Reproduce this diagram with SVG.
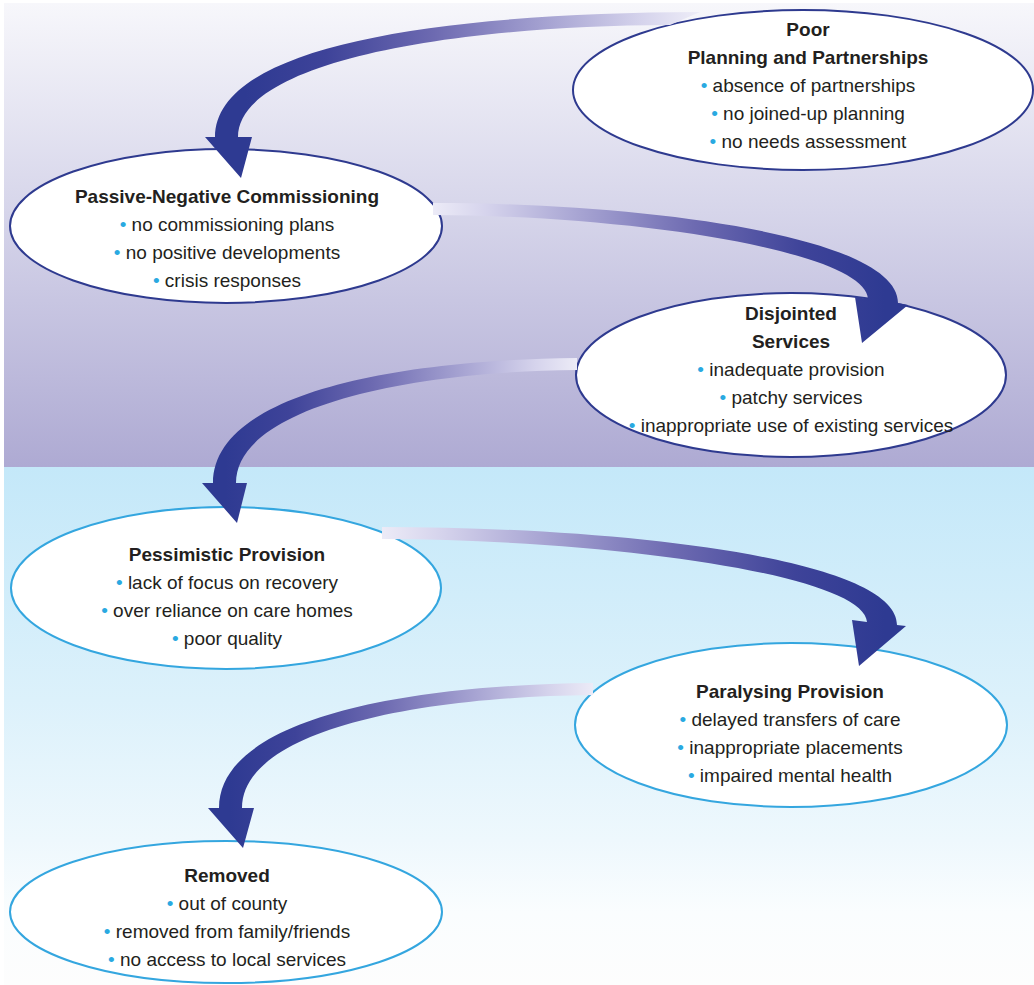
<svg xmlns="http://www.w3.org/2000/svg" width="1034" height="985" viewBox="0 0 1034 985">
<style>
.t{font-family:"Liberation Sans",Arial,Helvetica,sans-serif;font-size:19px;fill:#231f20;text-anchor:middle}
.b{font-weight:bold}
.d{fill:#29a9e1}
.e1{fill:#fff;stroke:#2e3a8f;stroke-width:2}
.e2{fill:#fff;stroke:#34a6df;stroke-width:2}
</style>
<defs>
<linearGradient id="bgTop" x1="0" y1="3" x2="0" y2="467" gradientUnits="userSpaceOnUse">
<stop offset="0" stop-color="#f7f7fb"/>
<stop offset="0.45" stop-color="#d6d5ea"/>
<stop offset="1" stop-color="#aeaad3"/>
</linearGradient>
<linearGradient id="bgBot" x1="0" y1="467" x2="0" y2="985" gradientUnits="userSpaceOnUse">
<stop offset="0" stop-color="#c4e8f9"/>
<stop offset="0.45" stop-color="#dcf1fb"/>
<stop offset="0.72" stop-color="#eef8fd"/>
<stop offset="0.86" stop-color="#fafdfe"/>
<stop offset="1" stop-color="#fdfdfd"/>
</linearGradient>
<linearGradient id="ga" gradientUnits="userSpaceOnUse" x1="0" y1="0" x2="1" y2="0">
<stop offset="0" stop-color="#ecebf7"/>
<stop offset="0.12" stop-color="#d5d3ec"/>
<stop offset="0.32" stop-color="#a8a5d3"/>
<stop offset="0.58" stop-color="#6d6ab1"/>
<stop offset="0.82" stop-color="#3e4399"/>
<stop offset="1" stop-color="#2e3a92"/>
</linearGradient>
<linearGradient id="g1" href="#ga" gradientUnits="userSpaceOnUse" x1="695" y1="0" x2="245" y2="0"/>
<linearGradient id="g2" href="#ga" gradientUnits="userSpaceOnUse" x1="433" y1="0" x2="885" y2="0"/>
<linearGradient id="g3" href="#ga" gradientUnits="userSpaceOnUse" x1="577" y1="0" x2="225" y2="0"/>
<linearGradient id="g4" href="#ga" gradientUnits="userSpaceOnUse" x1="382" y1="0" x2="885" y2="0"/>
<linearGradient id="g5" href="#ga" gradientUnits="userSpaceOnUse" x1="593" y1="0" x2="230" y2="0"/>
</defs>
<rect x="0" y="0" width="1034" height="985" fill="#ffffff"/>
<rect x="4" y="3" width="1030" height="464" fill="url(#bgTop)"/>
<rect x="4" y="467" width="1030" height="518" fill="url(#bgBot)"/>

<g id="node-poor-planning">
<ellipse class="e1" cx="803" cy="90" rx="230" ry="80"/>
<text class="t b" x="808" y="36">Poor</text>
<text class="t b" x="808" y="64">Planning and Partnerships</text>
<text class="t" x="808" y="92"><tspan class="d">•</tspan> absence of partnerships</text>
<text class="t" x="808" y="120"><tspan class="d">•</tspan> no joined-up planning</text>
<text class="t" x="808" y="148"><tspan class="d">•</tspan> no needs assessment</text>
</g>

<g id="node-passive-negative">
<ellipse class="e1" cx="226" cy="226" rx="216" ry="77"/>
<text class="t b" x="227" y="203">Passive-Negative Commissioning</text>
<text class="t" x="227" y="231"><tspan class="d">•</tspan> no commissioning plans</text>
<text class="t" x="227" y="259"><tspan class="d">•</tspan> no positive developments</text>
<text class="t" x="227" y="287"><tspan class="d">•</tspan> crisis responses</text>
</g>

<g id="node-disjointed">
<ellipse class="e1" cx="791" cy="375" rx="215" ry="82"/>
<text class="t b" x="791" y="320">Disjointed</text>
<text class="t b" x="791" y="348">Services</text>
<text class="t" x="791" y="376"><tspan class="d">•</tspan> inadequate provision</text>
<text class="t" x="791" y="404"><tspan class="d">•</tspan> patchy services</text>
<text class="t" x="791" y="432"><tspan class="d">•</tspan> inappropriate use of existing services</text>
</g>

<g id="node-pessimistic">
<ellipse class="e2" cx="226" cy="588" rx="215" ry="81"/>
<text class="t b" x="227" y="561">Pessimistic Provision</text>
<text class="t" x="227" y="589"><tspan class="d">•</tspan> lack of focus on recovery</text>
<text class="t" x="227" y="617"><tspan class="d">•</tspan> over reliance on care homes</text>
<text class="t" x="227" y="645"><tspan class="d">•</tspan> poor quality</text>
</g>

<g id="node-paralysing">
<ellipse class="e2" cx="791" cy="725" rx="216" ry="82"/>
<text class="t b" x="790" y="698">Paralysing Provision</text>
<text class="t" x="790" y="726"><tspan class="d">•</tspan> delayed transfers of care</text>
<text class="t" x="790" y="754"><tspan class="d">•</tspan> inappropriate placements</text>
<text class="t" x="790" y="782"><tspan class="d">•</tspan> impaired mental health</text>
</g>

<g id="node-removed">
<ellipse class="e2" cx="226" cy="912" rx="216" ry="71"/>
<text class="t b" x="227" y="882">Removed</text>
<text class="t" x="227" y="910"><tspan class="d">•</tspan> out of county</text>
<text class="t" x="227" y="938"><tspan class="d">•</tspan> removed from family/friends</text>
<text class="t" x="227" y="966"><tspan class="d">•</tspan> no access to local services</text>
</g>

<g id="connectors">
<path fill="url(#g1)" d="M 700 12 C 440 13, 215 45, 215 137 L 205 137 L 241 178 L 252 137 L 238 137 C 238 64, 440 26, 670 25 Z"/>
<path fill="url(#g2)" d="M 433 203 C 640 203, 898 235, 898 303 L 908 305 L 862 343 L 855 297 L 868 299 C 866 252, 640 216, 433 215 Z"/>
<path fill="url(#g3)" d="M 577 358 C 390 360, 213 395, 213 483 L 202 483 L 237 523 L 247 483 L 236 483 C 236 412, 390 372, 577 370 Z"/>
<path fill="url(#g4)" d="M 382 527 C 620 527, 897 558, 897 625 L 906 626 L 859 666 L 852 620 L 867 622 C 864 576, 620 540, 382 539 Z"/>
<path fill="url(#g5)" d="M 593 683 C 400 685, 219 720, 219 808 L 208 808 L 243 848 L 254 808 L 242 808 C 242 735, 400 697, 593 695 Z"/>
</g>
</svg>
